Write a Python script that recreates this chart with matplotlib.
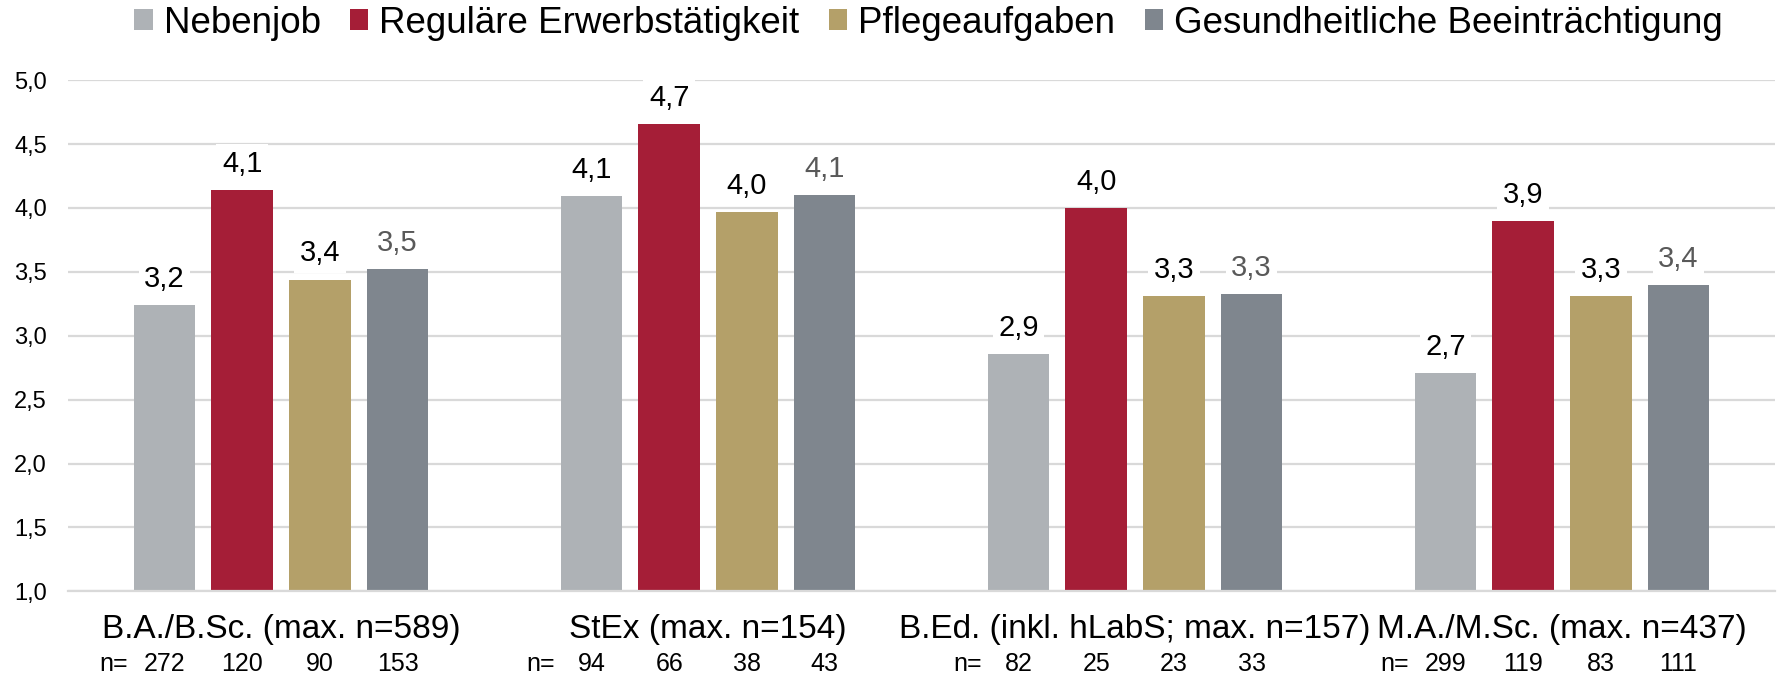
import numpy as np
import matplotlib
matplotlib.use("Agg")
import matplotlib.pyplot as plt
from matplotlib.patches import Patch
from matplotlib.transforms import blended_transform_factory

# data
groups = ["B.A./B.Sc. (max. n=589)", "StEx (max. n=154)",
          "B.Ed. (inkl. hLabS; max. n=157)", "M.A./M.Sc. (max. n=437)"]
series = ["Nebenjob", "Reguläre Erwerbstätigkeit", "Pflegeaufgaben",
          "Gesundheitliche Beeinträchtigung"]
nebenjob = [3.24, 4.09, 2.86, 2.71]
regulaer = [4.14, 4.66, 4.00, 3.90]
pflege = [3.44, 3.97, 3.31, 3.31]
gesundheit = [3.52, 4.10, 3.33, 3.40]
n_nebenjob = [272, 94, 82, 299]
n_regulaer = [120, 66, 25, 119]
n_pflege = [90, 38, 23, 83]
n_gesundheit = [153, 43, 33, 111]

values = [nebenjob, regulaer, pflege, gesundheit]
counts = [n_nebenjob, n_regulaer, n_pflege, n_gesundheit]
colors = ["#AEB2B6", "#A51E37", "#B4A069", "#7F868E"]
label_colors = ["black", "black", "black", "#595959"]

font = ["Liberation Sans", "DejaVu Sans"]

fig = plt.figure(figsize=(17.79, 6.79), dpi=100)
ax = fig.add_axes([0.038, 0.129, 0.960, 0.753])

x = np.arange(len(groups))
width = 0.144
step = 0.182
offsets = (np.arange(4) - 1.5) * step

for i in range(4):
    ax.bar(x + offsets[i], np.array(values[i]) - 1.0, width, bottom=1.0,
           color=colors[i], zorder=2)
    for xi, v in zip(x + offsets[i], values[i]):
        ax.annotate(f"{v:.1f}".replace(".", ","), (xi, v), xytext=(0, 13),
                    textcoords="offset points", ha="center", va="baseline",
                    fontsize=21, color=label_colors[i], family=font,
                    bbox=dict(facecolor="white", edgecolor="none", pad=4),
                    zorder=3)

ax.set_xlim(-0.5, 3.5)
ax.set_ylim(1.0, 5.0)
ticks = np.arange(1.0, 5.01, 0.5)
ax.set_yticks(ticks)
ax.set_yticklabels([f"{t:.1f}".replace(".", ",") for t in ticks],
                   fontsize=17, family=font)
ax.set_xticks([])
ax.tick_params(axis="y", length=0, pad=15)
ax.grid(axis="y", color="#D9D9D9", linewidth=1.6, zorder=0)
ax.set_axisbelow(True)
for s in ["top", "right", "left"]:
    ax.spines[s].set_visible(False)
ax.spines["bottom"].set_color("#D9D9D9")
ax.spines["bottom"].set_linewidth(1.6)

trans = blended_transform_factory(ax.transData, ax.transAxes)
for gi, g in enumerate(groups):
    ax.text(x[gi], -0.075, g, transform=trans, ha="center", va="center",
            fontsize=24, family=font)
    ax.text(x[gi] + offsets[0] - 0.12, -0.142, "n=", transform=trans,
            ha="center", va="center", fontsize=18, family=font)
    for i in range(4):
        ax.text(x[gi] + offsets[i], -0.142, str(counts[i][gi]), transform=trans,
                ha="center", va="center", fontsize=18, family=font)

handles = [Patch(facecolor=c, edgecolor="none") for c in colors]
fig.legend(handles, series, loc="center", bbox_to_anchor=(0.522, 0.966),
           ncol=4, frameon=False, prop={"family": font, "size": 26.5},
           handlelength=0.5, handleheight=0.5, handletextpad=0.3,
           columnspacing=0.8)

fig.savefig("out.png", dpi=100)
